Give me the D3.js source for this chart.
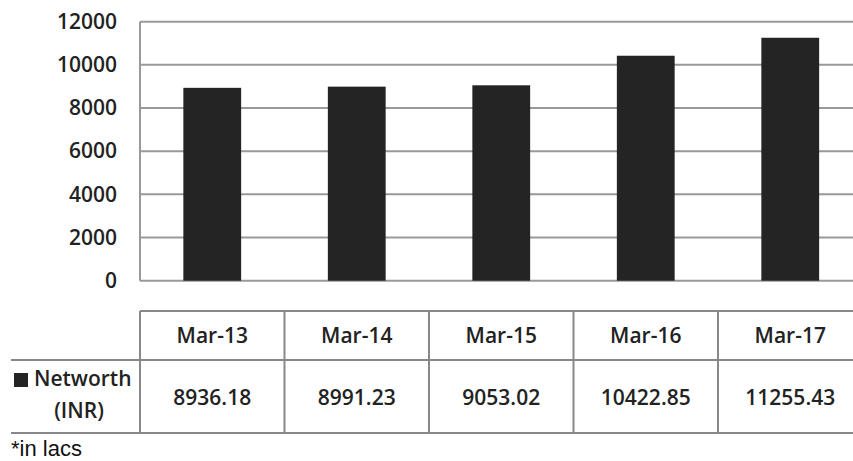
<!DOCTYPE html>
<html><head><meta charset="utf-8">
<script src="https://cdn.jsdelivr.net/npm/d3@7"></script>
<style>body{margin:0;background:#fff}svg{display:block}</style>
</head><body>
<svg id="c" width="853" height="461"></svg>
<script>
const categories = ["Mar-13","Mar-14","Mar-15","Mar-16","Mar-17"];
const networth = [8936.18, 8991.23, 9053.02, 10422.85, 11255.43];
const valueLabels = ["8936.18","8991.23","9053.02","10422.85","11255.43"];
const yTicks = [0,2000,4000,6000,8000,10000,12000];
const seriesName = ["Networth","(INR)"];
const footnote = "*in lacs";

const svg = d3.select("#c");
const font = "'Open Sans', sans-serif";
const txt = "#222";
const grid = "#999";

const x = d3.scaleBand().domain(categories).range([140, 862.5]).paddingInner(0.6).paddingOuter(0.3);
const y = d3.scaleLinear().domain([0, 12000]).range([280.7, 21.7]);

// gridlines
svg.append("g").selectAll("line").data(yTicks).join("line")
  .attr("x1", 140).attr("x2", 853)
  .attr("y1", d => y(d)).attr("y2", d => y(d))
  .attr("stroke", grid).attr("stroke-width", 2);
// left axis line
svg.append("line").attr("x1",140).attr("x2",140).attr("y1",y(12000)).attr("y2",y(0))
  .attr("stroke", grid).attr("stroke-width", 2);

// y axis labels
const yAxis = d3.axisLeft(y).tickValues(yTicks).tickSize(0).tickPadding(0).tickFormat(d3.format("d"));
const ga = svg.append("g").attr("transform","translate(117,0)").call(yAxis);
ga.select(".domain").remove();
ga.selectAll("text").attr("font-family", font).attr("font-size", 21).attr("font-weight", 600).attr("fill", txt);

// bars
svg.append("g").selectAll("rect").data(networth).join("rect")
  .attr("x", (d,i) => x(categories[i]))
  .attr("width", x.bandwidth())
  .attr("y", d => y(d))
  .attr("height", d => y(0) - y(d))
  .attr("fill", "#242424");

// data table
const step = x.step();
const colEdge = i => 140 + i*step;
const tTop = 311, tMid = 360, tBot = 433;
const tb = svg.append("g").attr("stroke", "#888").attr("stroke-width", 2);
tb.append("line").attr("x1", 140).attr("x2", 863).attr("y1", tTop).attr("y2", tTop);
tb.append("line").attr("x1", 11).attr("x2", 863).attr("y1", tMid).attr("y2", tMid);
tb.append("line").attr("x1", 11).attr("x2", 863).attr("y1", tBot).attr("y2", tBot);
tb.selectAll(".v").data(d3.range(categories.length+1)).join("line")
  .attr("x1", i => colEdge(i)).attr("x2", i => colEdge(i))
  .attr("y1", tTop).attr("y2", tBot);

const cx = c => x(c) + x.bandwidth()/2;
svg.append("g").selectAll("text").data(categories).join("text")
  .attr("x", d => cx(d)).attr("y", 336).attr("dy","0.35em").attr("text-anchor","middle")
  .attr("font-family", font).attr("font-size", 21).attr("font-weight", 600).attr("fill", txt)
  .text(d => d);
svg.append("g").selectAll("text").data(valueLabels).join("text")
  .attr("x", (d,i) => cx(categories[i])).attr("y", 398).attr("dy","0.35em").attr("text-anchor","middle")
  .attr("font-family", font).attr("font-size", 21).attr("font-weight", 600).attr("fill", txt)
  .text(d => d);

// legend
svg.append("rect").attr("x", 14).attr("y", 373).attr("width", 14).attr("height", 14).attr("fill", "#242424");
svg.append("text").attr("x", 34).attr("y", 379).attr("dy","0.35em")
  .attr("font-family", font).attr("font-size", 21).attr("font-weight", 600).attr("fill", txt).text(seriesName[0]);
svg.append("text").attr("x", 79).attr("y", 411).attr("dy","0.35em").attr("text-anchor","middle")
  .attr("font-family", font).attr("font-size", 21).attr("font-weight", 600).attr("fill", txt).text(seriesName[1]);

// footnote
svg.append("text").attr("x", 11).attr("y", 456)
  .attr("font-family", "'Liberation Sans', Arial, sans-serif").attr("font-size", 22).attr("fill", "#111").text(footnote);
</script>
</body></html>
